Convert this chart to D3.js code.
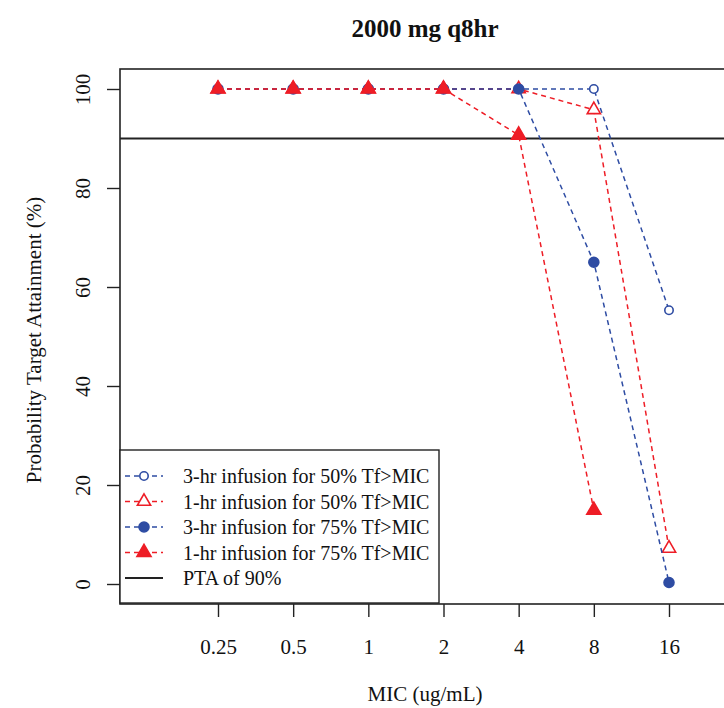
<!DOCTYPE html>
<html>
<head>
<meta charset="utf-8">
<script src="https://d3js.org/d3.v7.min.js"></script>
<style>
  body { margin: 0; background: #fff; }
  text { font-family: "Liberation Serif", "Times New Roman", serif; fill: #111; }
</style>
</head>
<body>
<script>
// MIC categories (ug/mL)
const mic = [0.25, 0.5, 1, 2, 4, 8, 16];
const micLabels = ["0.25", "0.5", "1", "2", "4", "8", "16"];

// PTA (%) per series
const pta3hr50 = [100, 100, 100, 100, 100, 100, 55.3];
const pta1hr50 = [100, 100, 100, 100, 100, 95.8, 7.2];
const pta3hr75 = [100, 100, 100, 100, 100, 65, 0.3];
const pta1hr75 = [100, 100, 100, 100, 90.7, 14.9];

const yTicks = [0, 20, 40, 60, 80, 100];
const target = 90;

const blue = "#2e4ca3", red = "#ee1d26";

const series = [
  { name: "3-hr infusion for 50% Tf>MIC", vals: pta3hr50, color: blue, shape: "circle", filled: false },
  { name: "1-hr infusion for 50% Tf>MIC", vals: pta1hr50, color: red, shape: "triangle", filled: false },
  { name: "3-hr infusion for 75% Tf>MIC", vals: pta3hr75, color: blue, shape: "circle", filled: true },
  { name: "1-hr infusion for 75% Tf>MIC", vals: pta1hr75, color: red, shape: "triangle", filled: true }
];

const width = 724, height = 708;
const box = { left: 120, right: 730, top: 69, bottom: 604 };

const svg = d3.select("body").append("svg")
  .attr("width", width)
  .attr("height", height);

const x = d3.scaleLog().base(2).domain([0.25, 16]).range([218, 669]);
const y = d3.scaleLinear().domain([0, 100]).range([584, 89]);

// marker
function drawMarker(g, s, cx, cy) {
  if (s.shape === "circle") {
    g.append("circle")
      .attr("cx", cx).attr("cy", cy)
      .attr("r", s.filled ? 5 : 4.2)
      .attr("fill", s.filled ? s.color : "#fff")
      .attr("stroke", s.color)
      .attr("stroke-width", 1.6);
  } else {
    g.append("path")
      .attr("d", d3.symbol().type(d3.symbolTriangle).size(s.filled ? 86 : 76)())
      .attr("transform", `translate(${cx},${cy})`)
      .attr("fill", s.filled ? s.color : "#fff")
      .attr("stroke", s.color)
      .attr("stroke-width", 1.6);
  }
}

// title
svg.append("text")
  .attr("x", (box.left + box.right) / 2)
  .attr("y", 37)
  .attr("text-anchor", "middle")
  .attr("font-size", "25px")
  .attr("font-weight", "bold")
  .text("2000 mg q8hr");

// axes
const xAxis = svg.append("g")
  .attr("transform", `translate(0,${box.bottom})`)
  .call(d3.axisBottom(x).tickValues(mic).tickFormat((d, i) => micLabels[i]).tickSize(13).tickPadding(22));
xAxis.select(".domain").remove();
xAxis.selectAll("line").attr("stroke", "#222").attr("stroke-width", 1.4);
xAxis.selectAll("text").attr("font-size", "21px").attr("font-family", "Liberation Serif").attr("fill", "#111");

const yAxis = svg.append("g")
  .attr("transform", `translate(${box.left},0)`)
  .call(d3.axisLeft(y).tickValues(yTicks).tickSize(13).tickPadding(0));
yAxis.select(".domain").remove();
yAxis.selectAll("line").attr("stroke", "#222").attr("stroke-width", 1.4);
yAxis.selectAll("text")
  .attr("font-size", "21px").attr("font-family", "Liberation Serif").attr("fill", "#111")
  .attr("x", 0).attr("dy", 0)
  .attr("text-anchor", "middle")
  .attr("transform", "translate(-30,0) rotate(-90)");

// axis titles
svg.append("text")
  .attr("x", (box.left + box.right) / 2)
  .attr("y", 701)
  .attr("text-anchor", "middle")
  .attr("font-size", "21px")
  .text("MIC (ug/mL)");

svg.append("text")
  .attr("transform", `translate(41,340) rotate(-90)`)
  .attr("text-anchor", "middle")
  .attr("font-size", "21px")
  .text("Probability Target Attainment (%)");

// plot box
svg.append("rect")
  .attr("x", box.left).attr("y", box.top)
  .attr("width", box.right - box.left).attr("height", box.bottom - box.top)
  .attr("fill", "none").attr("stroke", "#222").attr("stroke-width", 1.6);

// PTA reference line
svg.append("line")
  .attr("x1", box.left).attr("x2", box.right)
  .attr("y1", y(target)).attr("y2", y(target))
  .attr("stroke", "#222").attr("stroke-width", 1.8);

// series lines and markers
const line = d3.line().x((d, i) => x(mic[i])).y(d => y(d));
series.forEach(s => {
  const g = svg.append("g");
  g.append("path")
    .attr("d", line(s.vals))
    .attr("fill", "none")
    .attr("stroke", s.color)
    .attr("stroke-width", 1.5)
    .attr("stroke-dasharray", "5,4");
  s.vals.forEach((v, i) => drawMarker(g, s, x(mic[i]), y(v)));
});

// legend
const lg = { left: 120, top: 450, right: 439, bottom: 603 };
svg.append("rect")
  .attr("x", lg.left).attr("y", lg.top)
  .attr("width", lg.right - lg.left).attr("height", lg.bottom - lg.top)
  .attr("fill", "#fff").attr("stroke", "#222").attr("stroke-width", 1.4);

const rowY = d3.scaleLinear().domain([0, 4]).range([476, 578]);
const legendItems = series.concat([{ name: "PTA of 90%", color: "#222", shape: null }]);
legendItems.forEach((s, i) => {
  const g = svg.append("g");
  const yy = rowY(i);
  g.append("line")
    .attr("x1", 125).attr("x2", 163)
    .attr("y1", yy).attr("y2", yy)
    .attr("stroke", s.color)
    .attr("stroke-width", s.shape ? 1.5 : 1.8)
    .attr("stroke-dasharray", s.shape ? "5,4" : null);
  if (s.shape) drawMarker(g, s, 144, yy);
  g.append("text")
    .attr("x", 183).attr("y", yy)
    .attr("dy", "0.35em")
    .attr("font-size", "20px")
    .text(s.name);
});
</script>
</body>
</html>
